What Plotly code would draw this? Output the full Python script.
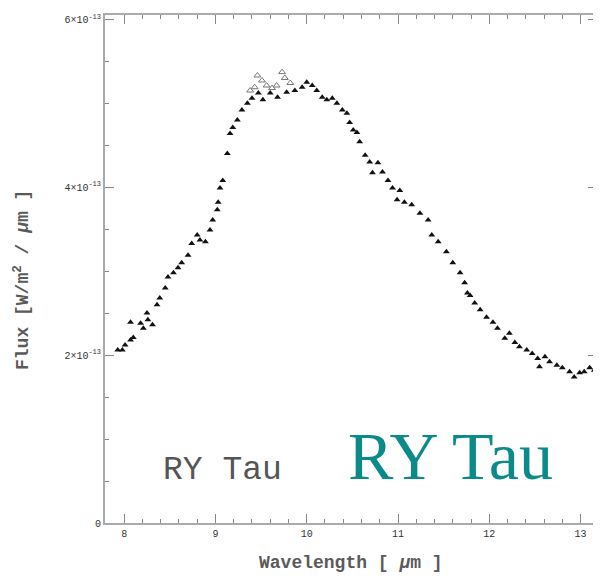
import plotly.graph_objects as go

# Main spectrum (wavelength in micron, flux in units of 1e-13 W/m^2/um)
wavelength = [7.93, 7.98, 8.01, 8.07, 8.10, 8.07, 8.18, 8.21, 8.26, 8.31, 8.25, 8.36, 8.39, 8.45,
              8.48, 8.54, 8.59, 8.63, 8.70, 8.74, 8.80, 8.83, 8.89, 8.94, 8.97, 9.02, 9.03, 9.05,
              9.08, 9.13, 9.16, 9.19, 9.24, 9.29, 9.35, 9.40, 9.47, 9.52, 9.60, 9.68, 9.78, 9.87,
              9.95, 10.00, 10.06, 10.11, 10.17, 10.22, 10.28, 10.33, 10.39, 10.44, 10.47, 10.51,
              10.55, 10.58, 10.64, 10.69, 10.72, 10.78, 10.83, 10.89, 10.94, 11.02, 10.99, 11.07,
              11.15, 11.24, 11.33, 11.37, 11.44, 11.53, 11.60, 11.68, 11.73, 11.76, 11.79, 11.84,
              11.90, 11.97, 12.04, 12.09, 12.17, 12.22, 12.28, 12.33, 12.41, 12.47, 12.53, 12.55,
              12.61, 12.66, 12.74, 12.80, 12.88, 12.93, 12.99, 13.04, 13.10, 13.15]
flux = [2.06, 2.06, 2.12, 2.18, 2.21, 2.39, 2.38, 2.32, 2.42, 2.36, 2.50, 2.60, 2.68, 2.80,
        2.93, 2.98, 3.04, 3.10, 3.19, 3.33, 3.43, 3.37, 3.35, 3.49, 3.61, 3.73, 3.82, 3.99,
        4.08, 4.40, 4.64, 4.71, 4.80, 4.92, 5.00, 5.06, 5.12, 5.04, 5.12, 5.07, 5.13, 5.15,
        5.19, 5.25, 5.21, 5.15, 5.07, 5.04, 5.06, 5.00, 4.92, 4.88, 4.77, 4.68,
        4.65, 4.54, 4.38, 4.30, 4.17, 4.29, 4.18, 4.08, 3.99, 3.96, 3.85, 3.82,
        3.79, 3.69, 3.61, 3.43, 3.35, 3.23, 3.10, 2.98, 2.86, 2.74, 2.71, 2.62,
        2.54, 2.45, 2.39, 2.32, 2.20, 2.26, 2.15, 2.10, 2.06, 2.02, 1.96, 1.86,
        1.98, 1.92, 1.88, 1.85, 1.80, 1.74, 1.79, 1.80, 1.85, 1.82]

# Secondary (open-symbol) points near the peak
wavelength_open = [9.38, 9.43, 9.46, 9.51, 9.56, 9.62, 9.67, 9.73, 9.76, 9.82]
flux_open = [5.15, 5.19, 5.33, 5.27, 5.21, 5.18, 5.21, 5.37, 5.30, 5.24]

SCALE = 1e-13
y_tickvals = [0, 2, 4, 6]
y_ticktext = ["0", "2×10<sup>-13</sup>", "4×10<sup>-13</sup>", "6×10<sup>-13</sup>"]
x_tickvals = [8, 9, 10, 11, 12, 13]

fig = go.Figure()
fig.add_trace(go.Scatter(
    x=wavelength, y=[f * SCALE for f in flux], mode="markers",
    marker=dict(symbol="triangle-up", size=6, color="#111111"),
    showlegend=False))
fig.add_trace(go.Scatter(
    x=wavelength_open, y=[f * SCALE for f in flux_open], mode="markers",
    marker=dict(symbol="triangle-up-open", size=6, color="#777777", line=dict(width=1)),
    showlegend=False))

axis_common = dict(
    showline=True, linecolor="#aaaaaa", linewidth=2, mirror="allticks",
    ticks="inside", ticklen=9, tickwidth=1, tickcolor="#888888",
    showgrid=False, zeroline=False, automargin=False,
    tickfont=dict(family="Liberation Mono", size=10, color="#333333"),
)

fig.update_xaxes(
    range=[7.79, 13.18], tickvals=x_tickvals,
    minor=dict(ticks="inside", dtick=0.2, tick0=8, ticklen=4, tickcolor="#888888", showgrid=False),
    **axis_common)
fig.update_yaxes(
    range=[0, 6.05 * SCALE], tickvals=[v * SCALE for v in y_tickvals], ticktext=y_ticktext,
    minor=dict(ticks="inside", dtick=0.5 * SCALE, tick0=0, ticklen=4, tickcolor="#888888", showgrid=False),
    **axis_common)

fig.add_annotation(text="<b>Wavelength [ <i>μ</i>m ]</b>", xref="paper", yref="paper",
                   x=0.5, y=-0.078, xanchor="center", yanchor="middle", showarrow=False,
                   font=dict(family="Liberation Mono", size=18, color="#5a5a5a"))
fig.add_annotation(text="<b>Flux [W/m<sup>2</sup> / <i>μ</i>m ]</b>", xref="paper", yref="paper",
                   x=-0.169, y=0.478, xanchor="center", yanchor="middle", textangle=-90,
                   showarrow=False,
                   font=dict(family="Liberation Mono", size=18, color="#5a5a5a"))
fig.add_annotation(text="RY Tau", x=9.08, y=0.63 * SCALE, showarrow=False,
                   font=dict(family="Liberation Mono", size=33, color="#555555"))
fig.add_annotation(text="RY Tau", x=11.57, y=0.80 * SCALE, showarrow=False,
                   font=dict(family="Liberation Serif", size=68, color="#0b8a8a"))

# page body has an 8px default margin, compensate in figure margins
fig.update_layout(
    width=601, height=578, margin=dict(l=97, r=12, t=7, b=63),
    plot_bgcolor="white", paper_bgcolor="white",
)

fig.write_html("out.html")
